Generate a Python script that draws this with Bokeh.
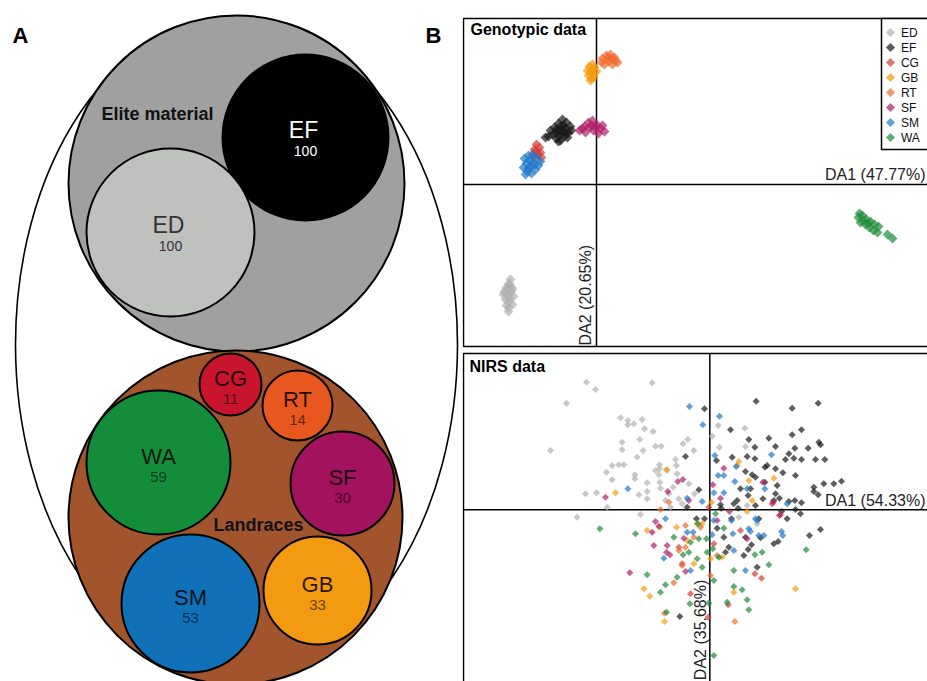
import math
from bokeh.plotting import figure
from bokeh.models import Range1d
from bokeh.layouts import row, column
from bokeh.embed import file_html
from bokeh.resources import INLINE
from bokeh.core.properties import value

FONT = value("Liberation Sans")

# ---------------- Panel A data ----------------
elite_groups = ["EF", "ED"]
elite_counts = [100, 100]
landrace_groups = ["CG", "RT", "WA", "SF", "SM", "GB"]
landrace_counts = [11, 14, 59, 30, 53, 33]

# schematic layout of panel A (page pixels)
outer_ellipse = dict(x=236, y=344, w=442, h=656)
elite_circle = dict(x=236, y=183, r=168, color="#a0a0a0")
landrace_circle = dict(x=235, y=517, r=167, color="#a2552d")
elite_cx = [305, 170]
elite_cy = [137, 232]
elite_r = [83, 84]
elite_fill = ["#000000", "#bfc1bf"]
elite_text = ["#ffffff", "#333333"]
land_cx = [230, 297, 158, 342, 190, 317]
land_cy = [384, 405, 462, 483, 603, 590]
land_r = [31, 35, 72, 52, 69, 54]
land_fill = ["#c8142c", "#e8581e", "#138d3a", "#a3125c", "#1070b8", "#f39a10"]

# ---------------- Panel B data ----------------
groups = ["ED", "EF", "CG", "GB", "RT", "SF", "SM", "WA"]
group_colors = ["#b0b0b0", "#1a1a1a", "#d43a35", "#f59a0c", "#ef6a2e", "#b01e6a", "#1f78c8", "#1e8c3a"]
geno_axis_labels = ["DA1 (47.77%)", "DA2 (20.65%)"]
nirs_axis_labels = ["DA1 (54.33%)", "DA2 (35.68%)"]

# Genotypic DAPC scores (DA1, DA2)
geno_ED = [(-4.30, -4.75), (-4.35, -4.95), (-4.50, -5.15), (-4.20, -5.20), (-4.60, -5.35), (-4.30, -5.40),
           (-4.45, -5.55), (-4.15, -5.60), (-4.55, -5.75), (-4.35, -5.85), (-4.20, -6.00), (-4.50, -6.05),
           (-4.40, -6.35), (-4.65, -5.50), (-4.25, -5.30), (-4.40, -5.00), (-4.35, -5.70), (-4.45, -5.25),
           (-4.30, -5.10), (-4.40, -6.15)]
geno_EF = [(-2.40, 2.40), (-2.20, 2.50), (-2.00, 2.30), (-1.80, 2.20), (-1.60, 2.40), (-1.40, 2.60),
           (-1.30, 2.90), (-1.50, 3.10), (-1.70, 3.25), (-1.90, 3.05), (-2.10, 2.85), (-1.95, 2.65),
           (-1.75, 2.75), (-1.55, 2.85), (-1.85, 2.45), (-1.65, 2.95), (-2.05, 2.55), (-1.45, 2.35),
           (-1.25, 2.70), (-2.30, 2.70), (-1.90, 2.15), (-1.70, 2.60), (-1.80, 2.90), (-2.00, 2.75),
           (-1.60, 2.65), (-1.85, 2.65), (-1.50, 2.55), (-2.55, 2.35)]
geno_CG = [(-3.00, 2.00), (-2.85, 1.85), (-3.10, 1.75), (-2.80, 1.60), (-2.95, 1.50), (-3.15, 1.40),
           (-2.75, 1.35), (-3.05, 1.65)]
geno_GB = [(-0.35, 5.90), (-0.20, 5.75), (-0.30, 5.60), (-0.15, 5.50), (-0.40, 5.45), (-0.25, 5.30),
           (-0.10, 5.85), (-0.45, 5.70), (-0.20, 6.00), (0.00, 5.65), (-0.30, 5.20), (-0.15, 5.35)]
geno_RT = [(0.30, 6.30), (0.50, 6.45), (0.70, 6.50), (0.90, 6.35), (1.05, 6.10), (0.80, 6.00),
           (0.60, 6.15), (0.40, 6.00), (0.55, 6.30), (0.95, 6.20), (0.75, 6.30), (0.25, 6.10)]
geno_SF = [(-0.85, 2.70), (-0.60, 2.90), (-0.40, 3.10), (-0.20, 3.20), (0.00, 3.00), (0.20, 2.80),
           (0.40, 2.65), (0.10, 2.55), (-0.15, 2.70), (-0.35, 2.85), (-0.55, 2.60), (-0.25, 2.95),
           (0.30, 2.95), (-0.05, 2.85), (-0.70, 2.80)]
geno_SM = [(-3.60, 1.30), (-3.40, 1.45), (-3.20, 1.50), (-3.00, 1.35), (-2.80, 1.15), (-3.10, 1.00),
           (-3.30, 0.90), (-3.50, 1.05), (-3.65, 0.85), (-3.45, 0.65), (-3.25, 0.55), (-3.05, 0.75),
           (-2.90, 0.95), (-3.35, 1.20), (-3.55, 0.50), (-3.20, 1.10), (-3.40, 0.80)]
geno_WA = [(13.10, -1.65), (13.30, -1.55), (13.50, -1.75), (13.70, -1.85), (13.90, -2.00), (14.10, -2.10),
           (13.20, -1.90), (13.45, -2.00), (13.65, -2.15), (13.85, -2.30), (14.05, -2.40), (13.35, -1.80),
           (13.60, -1.95), (14.55, -2.50), (14.80, -2.70), (13.15, -1.45)]

# NIRS DAPC scores (DA1, DA2)
nirs_ED = [(-3.70, 3.83), (-3.43, 3.61), (-4.30, 3.20), (-1.73, 3.81), (-4.78, 1.78), (-2.68, 2.76),
           (-2.46, 2.68), (-2.46, 2.55), (-2.28, 2.58), (-2.03, 2.71), (-1.96, 2.43), (-1.70, 2.35),
           (-2.10, 2.11), (-2.63, 2.03), (-1.63, 1.91), (-1.46, 1.91), (-2.63, 1.80), (-2.00, 1.78),
           (-2.18, 1.58), (-2.73, 1.35), (-2.93, 1.33), (-2.58, 1.35), (-3.10, 1.13), (-2.25, 1.05),
           (-2.93, 0.90), (-2.25, 0.93), (-1.51, 1.35), (-1.51, 1.23), (-1.53, 1.05), (-1.50, 0.83),
           (-1.88, 0.81), (-1.48, 0.65), (-3.73, 0.48), (-3.40, 0.51), (-2.13, 0.45), (-1.88, 0.55),
           (-1.03, 1.51), (-1.00, 1.33), (-0.98, 1.08), (-0.80, 1.98), (-0.66, 2.11), (-0.63, 0.78),
           (-0.46, 0.48), (-1.10, 0.68), (-1.33, 0.28), (-1.88, 0.33), (-3.08, 0.08), (-3.98, -0.22),
           (-2.08, -0.14), (0.25, 2.53), (1.05, 2.45), (0.07, 2.21), (0.29, 1.88), (1.07, 1.90),
           (1.12, 0.13), (1.42, -0.42), (0.87, -0.22), (-1.23, 0.48), (-0.93, 0.33), (-0.83, 0.18),
           (-1.18, 0.08), (-1.28, 1.18), (-1.63, 1.18), (-0.48, 1.78)]
nirs_EF = [(-0.16, 3.03), (1.39, 3.26), (2.47, 3.05), (3.25, 3.20), (0.62, 2.40), (1.77, 2.15),
           (1.17, 2.11), (1.35, 1.88), (2.47, 2.25), (2.75, 2.40), (3.27, 2.03), (3.32, 1.95),
           (2.55, 1.85), (2.95, 1.85), (1.97, 1.90), (2.37, 1.68), (1.12, 1.60), (1.35, 1.53),
           (1.65, 1.28), (2.27, 1.51), (2.52, 1.55), (3.17, 1.51), (3.45, 1.51), (2.75, 1.51),
           (1.07, 1.15), (1.27, 1.05), (1.72, 1.33), (1.97, 1.23), (2.19, 1.11), (2.57, 1.03),
           (1.37, 0.98), (1.65, 0.83), (2.02, 0.73), (1.97, 0.48), (2.09, 0.35), (1.15, 0.43),
           (0.82, 0.28), (0.72, 0.18), (0.32, 0.15), (3.12, 0.68), (3.12, 0.55), (3.25, 0.45),
           (3.42, 0.78), (3.72, 0.78), (3.95, 0.86), (2.37, 0.25), (2.55, 0.28), (2.75, 0.21),
           (1.59, 0.33), (1.92, 0.28), (1.22, 0.63), (0.92, 0.63), (1.37, 0.13), (0.34, 0.05),
           (0.85, 0.05), (2.15, -0.05), (2.32, -0.27), (2.57, 0.01), (2.72, -0.12), (3.32, -0.59),
           (2.99, -0.77), (0.65, -0.27), (1.47, -0.27), (1.52, -0.84), (1.07, -0.82), (0.42, -0.82),
           (0.22, -0.55), (1.92, -1.02), (2.05, -0.95), (1.25, -1.05), (1.15, -1.19), (1.02, -1.37),
           (1.42, -1.72), (0.57, -1.12), (0.47, -1.27), (-0.90, -3.20), (-0.40, -0.27), (-0.16, -0.27),
           (-0.73, 1.60), (-0.33, 0.60), (-0.68, 0.08), (0.20, 1.48), (0.67, 1.58)]
nirs_CG = [(2.12, -0.15), (1.55, -2.05), (1.35, -1.92), (0.55, -2.85), (-0.05, -3.22), (-0.58, -2.52),
           (-0.83, -1.62), (-0.03, 0.08), (-0.93, -1.12), (0.92, -0.62), (0.12, -1.02), (1.87, 0.18)]
nirs_GB = [(-1.30, 1.21), (-2.83, 0.51), (0.87, 1.45), (1.17, 0.88), (1.92, 0.95), (0.82, 1.33),
           (1.27, 0.28), (0.05, 0.23), (-1.88, -0.62), (-1.50, -0.52), (-1.98, -2.37), (-1.80, -2.59),
           (-1.36, -3.35), (-0.38, -0.42), (-0.23, -0.42), (-1.00, -0.52), (2.57, -2.37), (0.72, -2.47),
           (1.12, -0.05), (0.02, -1.47), (0.37, -1.42), (-0.48, -1.62), (-0.68, -0.92)]
nirs_RT = [(0.75, -3.35), (-1.36, -3.10), (-1.08, -2.19), (-0.83, -1.67), (-0.73, -1.12), (-0.73, -0.47),
           (-1.48, 0.01), (-1.23, 0.23), (0.02, -1.97), (-0.28, -0.52), (-0.93, -1.22), (-0.48, -0.82),
           (0.22, -1.37)]
nirs_SF = [(-3.13, 0.38), (-1.26, 0.55), (-0.96, 0.85), (-0.81, 0.91), (-0.63, 0.28), (0.42, 1.25),
           (1.59, 0.83), (0.09, 0.75), (0.32, 0.35), (-1.63, -0.35), (-1.53, -0.49), (-1.68, -1.07),
           (-1.28, -1.07), (-1.30, -1.27), (-1.20, -1.35), (-2.40, -1.89), (-0.78, -0.85), (-0.73, -1.85),
           (0.59, -0.05), (0.22, -0.32), (1.12, -0.87), (2.09, -0.17), (1.90, 0.23), (-1.73, -0.67)]
nirs_SM = [(-0.61, 3.10), (-0.21, 2.55), (0.29, 2.81), (0.15, 1.63), (1.85, 1.65), (0.79, 1.30),
           (0.25, 1.03), (0.42, 1.03), (0.75, 0.85), (1.12, 0.63), (0.42, 0.51), (0.12, 0.51),
           (2.32, 0.18), (1.65, 0.63), (1.37, -0.27), (1.42, -0.32), (0.65, -0.32), (1.17, -0.57),
           (1.22, -0.65), (1.47, -0.77), (1.62, -0.77), (0.69, -0.72), (2.15, -0.65), (2.19, -0.77),
           (0.72, -1.22), (1.07, -1.82), (0.12, -0.32), (0.07, -0.75), (-1.38, -1.45), (-1.33, -0.27),
           (-0.68, -0.67), (-0.50, -0.67), (-2.46, 0.63), (-0.68, 0.35), (-0.23, 0.25), (-0.58, -1.82)]
nirs_WA = [(-3.30, -0.57), (-2.23, -0.72), (-1.88, -1.95), (-1.48, -2.47), (-1.33, -2.25), (-1.30, -3.07),
           (-0.60, -2.82), (-0.98, -2.02), (-0.80, -1.35), (-0.38, -1.47), (-0.63, -1.27), (-0.23, -1.72),
           (-0.08, -1.27), (-0.33, -0.87), (-0.10, -0.87), (0.17, -0.12), (0.42, -0.55), (0.09, -1.17),
           (0.27, -1.42), (0.72, -1.82), (1.35, -1.35), (1.57, -1.27), (1.77, -1.65), (2.89, -1.20),
           (0.72, -2.30), (0.97, -2.40), (1.12, -2.70), (1.17, -3.00), (0.52, -2.77), (0.12, -2.12),
           (-0.03, -2.80), (0.12, -4.37), (-0.58, -0.97), (-0.36, -0.42), (-1.08, -0.82)]

geno_sets = [geno_ED, geno_EF, geno_CG, geno_GB, geno_RT, geno_SF, geno_SM, geno_WA]
nirs_sets = [nirs_ED, nirs_EF, nirs_CG, nirs_GB, nirs_RT, nirs_SF, nirs_SM, nirs_WA]

POINT_ALPHA = 0.7


def bare(p):
    p.grid.visible = False
    p.outline_line_color = None
    p.background_fill_color = "white"
    p.border_fill_color = "white"
    return p


def make_fig(w, h, xr, yr):
    return bare(figure(width=w, height=h, x_range=Range1d(*xr), y_range=Range1d(*yr),
                       output_backend="svg", toolbar_location=None, title=None, min_border=0,
                       x_axis_location=None, y_axis_location=None))


# ---------------- Panel A ----------------
pA = make_fig(462, 681, (0, 462), (681, 0))

pA.ellipse(x=[outer_ellipse["x"]], y=[outer_ellipse["y"]], width=[outer_ellipse["w"]],
           height=[outer_ellipse["h"]], fill_color=None, line_color="black", line_width=1.6)
pA.circle(x=[elite_circle["x"]], y=[elite_circle["y"]], radius=[elite_circle["r"]],
          fill_color=elite_circle["color"], line_color="black", line_width=2)
pA.circle(x=elite_cx, y=elite_cy, radius=elite_r, fill_color=elite_fill, line_color="black", line_width=2)
pA.circle(x=[landrace_circle["x"]], y=[landrace_circle["y"]], radius=[landrace_circle["r"]],
          fill_color=landrace_circle["color"], line_color="black", line_width=2)
pA.circle(x=land_cx, y=land_cy, radius=land_r, fill_color=land_fill, line_color="black", line_width=2)

pA.text(x=[c - 2 for c in elite_cx], y=[c - 8 for c in elite_cy], text=elite_groups,
        text_color=elite_text, text_font=FONT, text_font_size="23px",
        text_align="center", text_baseline="middle")
pA.text(x=elite_cx, y=[c + 13 for c in elite_cy], text=[str(n) for n in elite_counts],
        text_color=elite_text, text_font=FONT, text_font_size="14px",
        text_align="center", text_baseline="middle")
pA.text(x=land_cx, y=[c - 6 for c in land_cy], text=landrace_groups, text_color="black", text_alpha=0.85,
        text_font=FONT, text_font_size="22px", text_align="center", text_baseline="middle")
pA.text(x=land_cx, y=[c + 14 for c in land_cy], text=[str(n) for n in landrace_counts],
        text_color="black", text_alpha=0.6, text_font=FONT, text_font_size="15px",
        text_align="center", text_baseline="middle")
pA.text(x=[157, 258], y=[113, 524], text=["Elite material", "Landraces"], text_color="#111111",
        text_font=FONT, text_font_size="18px", text_font_style="bold",
        text_align="center", text_baseline="middle")
pA.text(x=[20, 433], y=[35, 35], text=["A", "B"], text_color="black", text_font=FONT,
        text_font_size="22px", text_font_style="bold", text_align="center", text_baseline="middle")


def add_groups(p, sets, size):
    for pts, col in zip(sets, group_colors):
        p.scatter(x=[a for a, b in pts], y=[b for a, b in pts], marker="square", angle=math.pi / 4,
                  size=size, fill_color=col, fill_alpha=POINT_ALPHA, line_color=None)


# ---------------- Panel B: genotypic ----------------
pG = make_fig(465, 350, (-6.7, 16.55), (-8.3, 9.2))
g_box = dict(left=-6.65, right=20, top=8.3, bottom=-8.1)
pG.quad(left=[g_box["left"]], right=[g_box["right"]], top=[g_box["top"]], bottom=[g_box["bottom"]],
        fill_color=None, line_color="black", line_width=1.5)
pG.segment(x0=[g_box["left"], 0], y0=[0, g_box["bottom"]], x1=[g_box["right"], 0], y1=[0, g_box["top"]],
           line_color="black", line_width=1.5)
add_groups(pG, geno_sets, 7)
pG.text(x=[-6.3], y=[7.75], text=["Genotypic data"], text_font=FONT, text_font_size="16px",
        text_font_style="bold", text_color="black", text_align="left", text_baseline="middle")
pG.text(x=[16.45], y=[0.1], text=[geno_axis_labels[0]], text_font=FONT, text_font_size="16px",
        text_color="#222222", text_align="right", text_baseline="bottom")
pG.text(x=[-0.12], y=[-8.05], text=[geno_axis_labels[1]], angle=math.pi / 2, text_font=FONT,
        text_font_size="16px", text_color="#222222", text_align="left", text_baseline="bottom")

# legend (drawn in the genotypic panel)
leg_box = dict(left=14.25, right=20, top=g_box["top"], bottom=1.75)
leg_y = [g_box["top"] - (14 + 15 * i) / 20 for i in range(len(groups))]
pG.quad(left=[leg_box["left"]], right=[leg_box["right"]], top=[leg_box["top"]], bottom=[leg_box["bottom"]],
        fill_color="white", line_color="black", line_width=1.5)
pG.scatter(x=[14.7] * len(groups), y=leg_y, marker="square", angle=math.pi / 4, size=6.5,
           fill_color=group_colors, fill_alpha=POINT_ALPHA, line_color=None)
pG.text(x=[15.22] * len(groups), y=leg_y, text=groups, text_font=FONT, text_font_size="12px",
        text_color="#111111", text_align="left", text_baseline="middle")

# ---------------- Panel B: NIRS ----------------
pN = make_fig(465, 331, (-7.42, 6.53), (-5.15, 4.78))
n_box = dict(left=-7.39, right=10, top=4.69, bottom=-10)
pN.quad(left=[n_box["left"]], right=[n_box["right"]], top=[n_box["top"]], bottom=[n_box["bottom"]],
        fill_color=None, line_color="black", line_width=1.5)
pN.segment(x0=[n_box["left"], 0], y0=[0, n_box["bottom"]], x1=[n_box["right"], 0], y1=[0, n_box["top"]],
           line_color="black", line_width=1.5)
add_groups(pN, nirs_sets, 5)
pN.text(x=[-7.21], y=[4.30], text=["NIRS data"], text_font=FONT, text_font_size="16px",
        text_font_style="bold", text_color="black", text_align="left", text_baseline="middle")
pN.text(x=[6.47], y=[0.04], text=[nirs_axis_labels[0]], text_font=FONT, text_font_size="16px",
        text_color="#222222", text_align="right", text_baseline="bottom")
pN.text(x=[-0.04], y=[-5.11], text=[nirs_axis_labels[1]], angle=math.pi / 2, text_font=FONT,
        text_font_size="16px", text_color="#222222", text_align="left", text_baseline="bottom")

layout = row(pA, column(pG, pN, spacing=0), spacing=0)
open("out.html", "w").write(file_html(layout, INLINE))
